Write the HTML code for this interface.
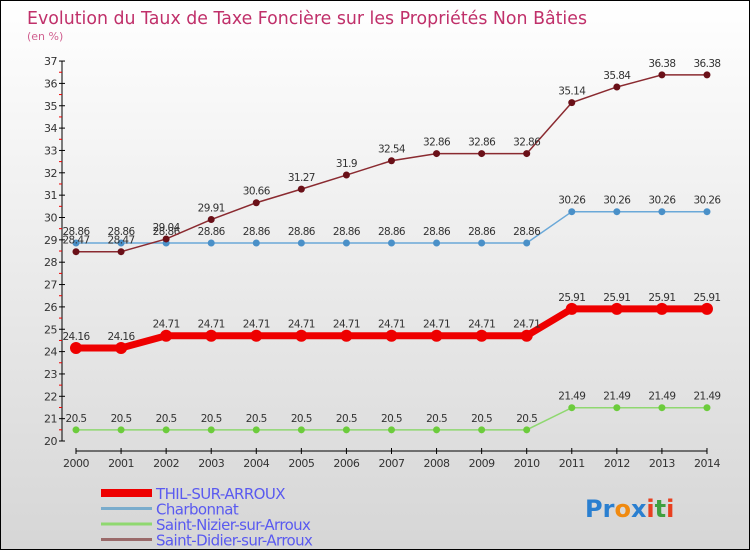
<!DOCTYPE html>
<html><head><meta charset="utf-8"><style>
body{margin:0}
#c{position:relative;width:748px;height:548px;border:1px solid #000;background:linear-gradient(#fff,#d6d6d6);font-family:"DejaVu Sans","Liberation Sans",sans-serif;overflow:hidden}
</style></head><body>
<div id="c">
<svg id="s" width="748" height="548" xmlns="http://www.w3.org/2000/svg">
<text x="26" y="23" font-size="18" fill="#c0306a" font-family="DejaVu Sans" textLength="560" lengthAdjust="spacingAndGlyphs">Evolution du Taux de Taxe Foncière sur les Propriétés Non Bâties</text>
<text x="26" y="39" font-size="11" fill="#d06090">(en %)</text>
<g id="axes"></g><g id="series"></g><g id="legend"></g>
<g font-size="24" font-family="DejaVu Sans" font-weight="bold">
<text x="584" y="516"><tspan fill="#2a7fd0">Pr</tspan><tspan fill="#f08a10">o</tspan><tspan fill="#2a7fd0">x</tspan><tspan fill="#e84020">i</tspan><tspan fill="#40a040">t</tspan><tspan fill="#e84020">i</tspan></text>
</g>
</svg>
</div>
<script>
const years=[2000,2001,2002,2003,2004,2005,2006,2007,2008,2009,2010,2011,2012,2013,2014];
const yTicks=[20,21,22,23,24,25,26,27,28,29,30,31,32,33,34,35,36,37];
const thil=[24.16,24.16,24.71,24.71,24.71,24.71,24.71,24.71,24.71,24.71,24.71,25.91,25.91,25.91,25.91];
const charb=[28.86,28.86,28.86,28.86,28.86,28.86,28.86,28.86,28.86,28.86,28.86,30.26,30.26,30.26,30.26];
const nizier=[20.5,20.5,20.5,20.5,20.5,20.5,20.5,20.5,20.5,20.5,20.5,21.49,21.49,21.49,21.49];
const didier=[28.47,28.47,29.04,29.91,30.66,31.27,31.9,32.54,32.86,32.86,32.86,35.14,35.84,36.38,36.38];
const names=["THIL-SUR-ARROUX","Charbonnat","Saint-Nizier-sur-Arroux","Saint-Didier-sur-Arroux"];
const NS="http://www.w3.org/2000/svg";
const X=i=>75+i*45.07, Y=v=>440-(v-20)*22.35;
function el(t,a,p){const e=document.createElementNS(NS,t);for(const k in a)e.setAttribute(k,a[k]);p.appendChild(e);return e;}
const ax=document.getElementById('axes');
let l=el('line',{x1:61,y1:60,x2:61,y2:440,stroke:'#000'},ax);

l=el('line',{x1:75,y1:450,x2:706,y2:450,stroke:'#000'},ax);

yTicks.forEach(v=>{el('line',{x1:58,x2:64,y1:Y(v),y2:Y(v),stroke:'#000'},ax);
 if(v<37)el('line',{x1:58,x2:61,y1:Y(v+0.5),y2:Y(v+0.5),stroke:'#e00'},ax);
 const t=el('text',{x:56,y:Y(v)+4,'text-anchor':'end','font-size':11,fill:'#333','letter-spacing':'-0.5'},ax);t.textContent=v;
 });
years.forEach((y,i)=>{el('line',{x1:X(i),x2:X(i),y1:447,y2:453,stroke:'#000'},ax);
 const t=el('text',{x:X(i),y:466,'text-anchor':'middle','font-size':11,fill:'#333','letter-spacing':'-0.5'},ax);t.textContent=y;
 });
const sg=document.getElementById('series');
const defs=[[nizier,'#8fd870','#6ccc3c',1.5,3.5,'nizier'],[charb,'#6aa8d8','#4a90c8',1.5,3.5,'charbonnat'],[didier,'#8a2a30','#6a1018',1.5,3.5,'didier'],[thil,'#ee0000','#ee0000',7,6,'thil']];
defs.forEach(([d,c,m,w,r,n])=>{
 const p=el('polyline',{points:d.map((v,i)=>X(i)+','+Y(v)).join(' '),fill:'none',stroke:c,'stroke-width':w},sg);
 
 d.forEach((v,i)=>{const ci=el('circle',{cx:X(i),cy:Y(v),r:r,fill:m},sg);
  
  const t=el('text',{x:X(i),y:Y(v)-8,'text-anchor':'middle','font-size':10.5,fill:'#333','letter-spacing':'-0.6'},sg);t.textContent=v;
  });
});
const lg=document.getElementById('legend');
const lc=['#ee0000','#7aaccc','#8fd870','#9a6a6a'],lw=[8,3,3,3];
names.forEach((n,i)=>{const y=492+i*15.5;
 const g=el('g',{},lg);
 el('line',{x1:100,x2:151,y1:y,y2:y,stroke:lc[i],'stroke-width':lw[i]},g);
 const t=el('text',{x:155,y:y+6,'font-size':15,fill:'#5a5af0','letter-spacing':'-0.6'},g);t.textContent=n;});
</script>
</body></html>
